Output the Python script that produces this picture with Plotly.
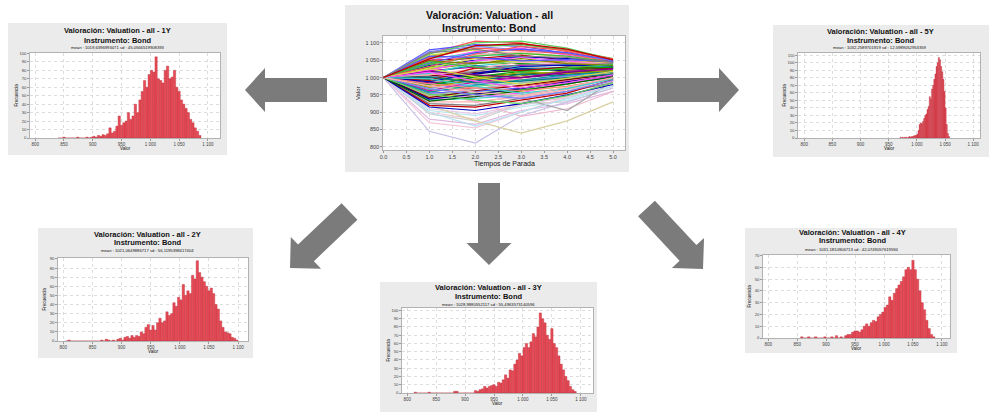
import math
import plotly.graph_objects as go

W, H = 989, 412

# ======================= DATA =======================
stop_times = [0.0, 1.0, 2.0, 3.0, 4.0, 5.0]
start_value = 1000
# values of each simulated path at t = 1..5 (all paths start at start_value)
valuation_paths = [
    [1070, 1105, 1100, 1075, 1050], [1080, 1095, 1090, 1070, 1045], [1060, 1090, 1095, 1080, 1055],
    [1065, 1080, 1070, 1060, 1040], [1050, 1075, 1085, 1065, 1045], [1055, 1070, 1060, 1055, 1040],
    [1045, 1065, 1075, 1060, 1050], [1040, 1060, 1050, 1045, 1035], [1050, 1055, 1065, 1050, 1042],
    [1035, 1050, 1060, 1055, 1048], [1030, 1045, 1040, 1035, 1030], [1025, 1040, 1050, 1045, 1038],
    [1020, 1030, 1035, 1040, 1035], [1015, 1035, 1025, 1030, 1028], [1010, 1020, 1030, 1025, 1032],
    [1005, 1015, 1020, 1030, 1025], [1000, 1010, 1025, 1020, 1030], [995, 1005, 1010, 1015, 1020],
    [990, 1000, 1005, 1020, 1025], [985, 995, 1000, 1010, 1018], [980, 990, 1010, 1005, 1022],
    [975, 985, 995, 1000, 1015], [970, 980, 990, 1005, 1010], [965, 975, 985, 995, 1012],
    [960, 970, 975, 990, 1005], [955, 960, 970, 985, 1000], [950, 955, 965, 980, 1008],
    [945, 950, 960, 975, 995], [940, 945, 955, 990, 1002], [935, 940, 950, 970, 998],
    [930, 930, 945, 965, 990], [925, 920, 940, 960, 985], [920, 915, 935, 955, 995],
    [915, 905, 925, 950, 980], [910, 895, 920, 945, 990], [905, 890, 915, 935, 975],
    [900, 880, 930, 940, 985], [895, 875, 925, 930, 970], [880, 865, 905, 925, 960],
    [870, 855, 900, 945, 975], [845, 811, 890, 930, 970], [920, 875, 840, 875, 930],
    [960, 930, 888, 910, 960], [990, 960, 940, 905, 990], [900, 860, 900, 940, 975],
    [985, 930, 945, 965, 1000], [1075, 1090, 1080, 1070, 1048], [1068, 1100, 1105, 1085, 1052],
    [1058, 1085, 1078, 1068, 1045], [1042, 1072, 1082, 1072, 1050], [1038, 1062, 1070, 1062, 1044],
    [1028, 1055, 1045, 1050, 1040], [1022, 1048, 1058, 1048, 1036], [1012, 1042, 1030, 1038, 1030],
    [1008, 1025, 1045, 1042, 1042], [998, 1018, 1038, 1035, 1040], [992, 1028, 1020, 1028, 1027],
    [988, 1012, 1032, 1036, 1034], [978, 1002, 1018, 1025, 1030], [972, 995, 1015, 1012, 1020],
    [962, 988, 1000, 1018, 1024], [958, 978, 992, 1008, 1016], [948, 968, 985, 1000, 1012],
    [942, 962, 978, 995, 1010], [938, 952, 968, 988, 1006], [932, 945, 962, 982, 1002],
    [1048, 1040, 1055, 1040, 1035], [1018, 1008, 1000, 1015, 1026], [1002, 985, 990, 1000, 1010],
    [982, 970, 962, 975, 998], [968, 950, 940, 960, 992], [952, 935, 925, 948, 985],
    [1032, 1068, 1090, 1078, 1054], [1062, 1058, 1048, 1052, 1046], [1046, 1030, 1015, 1028, 1038],
    [1026, 1002, 980, 998, 1018], [1016, 990, 970, 985, 1008], [996, 975, 955, 968, 996],
    [976, 958, 948, 972, 1000], [1072, 1082, 1062, 1058, 1044], [1054, 1092, 1098, 1082, 1051],
]
center_x_ticks = [0.0, 0.5, 1.0, 1.5, 2.0, 2.5, 3.0, 3.5, 4.0, 4.5, 5.0]
center_x_tick_text = ["0.0", "0.5", "1.0", "1.5", "2.0", "2.5", "3.0", "3.5", "4.0", "4.5", "5.0"]
value_ticks = [800, 850, 900, 950, 1000, 1050, 1100]
value_tick_text = ["800", "850", "900", "950", "1 000", "1 050", "1 100"]

center_title = ["Valoración: Valuation - all", "Instrumento: Bond"]
center_x_title = "Tiempos de Parada"
center_y_title = "Valor"
hist_x_title = "Valor"
hist_y_title = "Frecuencia"
hist_title_fmt = "Valoración: Valuation - all - {}"
instrument_line = "Instrumento: Bond"

# histograms: first bin left edge, bin width, counts per bin
hist_1y_start, hist_1y_width = 840, 4
hist_1y_counts = [0, 0, 1, 0, 0, 0, 0, 0, 1, 0, 0, 0, 1, 0, 1, 2, 1, 3, 2, 4, 3, 5, 12, 6, 8, 14,
                  26, 15, 18, 20, 30, 22, 26, 40, 30, 45, 55, 68, 60, 75, 80, 78, 96, 70, 68, 65,
                  80, 85, 70, 72, 80, 60, 55, 45, 40, 35, 30, 22, 18, 12, 8, 3]
hist_2y_start, hist_2y_width = 804, 4
hist_2y_counts = [0, 1, 0, 0, 0, 0, 0, 0, 0, 0, 0, 0, 0, 0, 0, 1, 0, 2, 1, 0, 1, 0, 2, 3, 1, 4,
                  5, 3, 6, 4, 6, 5, 10, 8, 15, 18, 12, 17, 12, 20, 25, 20, 22, 32, 28, 30, 42, 38,
                  48, 45, 62, 50, 55, 52, 72, 68, 88, 75, 70, 65, 60, 55, 58, 52, 40, 35, 22, 15,
                  10, 9, 8, 4, 3, 1]
hist_3y_start, hist_3y_width = 812, 4
hist_3y_counts = [1, 0, 0, 0, 0, 0, 1, 0, 0, 0, 0, 0, 0, 0, 0, 0, 0, 2, 2, 0, 0, 0, 0, 0, 0, 0,
                  3, 2, 4, 5, 8, 6, 8, 9, 10, 8, 13, 12, 16, 22, 18, 28, 27, 35, 40, 48, 45, 55,
                  60, 55, 62, 72, 68, 80, 97, 90, 85, 70, 65, 78, 60, 55, 45, 35, 28, 20, 15, 8,
                  4, 2]
hist_4y_start, hist_4y_width = 856, 4
hist_4y_counts = [1, 0, 0, 1, 0, 0, 1, 0, 0, 0, 1, 0, 0, 1, 0, 2, 0, 1, 0, 2, 3, 3, 5, 6, 6, 5,
                  7, 10, 12, 10, 13, 15, 14, 18, 20, 22, 26, 28, 35, 32, 38, 42, 45, 48, 52, 58,
                  60, 58, 66, 58, 50, 40, 30, 24, 15, 8, 3, 1]
hist_5y_start, hist_5y_width = 970, 2
hist_5y_counts = [1, 0, 1, 0, 1, 1, 0, 1, 2, 1, 2, 2, 3, 3, 4, 5, 10, 18, 20, 19, 22, 26, 30, 32,
                  38, 42, 55, 52, 65, 70, 78, 85, 95, 100, 107, 104, 95, 88, 78, 62, 40, 18, 6, 2]

freq_ticks_1y = [0, 10, 20, 30, 40, 50, 60, 70, 80, 90, 100]
freq_ticks_2y = [0, 10, 20, 30, 40, 50, 60, 70, 80, 90]
freq_ticks_3y = [0, 10, 20, 30, 40, 50, 60, 70, 80, 90, 100]
freq_ticks_4y = [0, 10, 20, 30, 40, 50, 60, 70]
freq_ticks_5y = [0, 10, 20, 30, 40, 50, 60, 70, 80, 90, 100, 110]

subtitle_1y = "mean : 1019,6396993471 sd : 45,0566519908393"
subtitle_2y = "mean : 1021,0649886717 sd : 56,1195398417404"
subtitle_3y = "mean : 1028,9880552117 sd : 55,4963573140596"
subtitle_4y = "mean : 1031,1810906713 sd : 42,0749057619594"
subtitle_5y = "mean : 1032,2589701919 sd : 12,5989052953359"

histograms = [
    ("1Y", hist_1y_start, hist_1y_width, hist_1y_counts, freq_ticks_1y, subtitle_1y),
    ("2Y", hist_2y_start, hist_2y_width, hist_2y_counts, freq_ticks_2y, subtitle_2y),
    ("3Y", hist_3y_start, hist_3y_width, hist_3y_counts, freq_ticks_3y, subtitle_3y),
    ("4Y", hist_4y_start, hist_4y_width, hist_4y_counts, freq_ticks_4y, subtitle_4y),
    ("5Y", hist_5y_start, hist_5y_width, hist_5y_counts, freq_ticks_5y, subtitle_5y),
]

# ======================= LAYOUT (pixels) =======================
center_panel = dict(box=(345, 5, 629, 172), plot=(383, 36, 625, 150), title_x=489, title_y=(15, 28),
                    xr=(-0.01, 5.26), yr=(791, 1120))
hist_panels = {
    "1Y": dict(box=(8, 23, 227, 155), plot=(30, 53, 220, 138), title_x=117.5, title_y=(31, 40.5, 47.5),
               xr=(791, 1121), yr=(0, 100.5)),
    "2Y": dict(box=(38, 228, 253, 358), plot=(58, 258, 248, 341), title_x=147, title_y=(234.5, 242.5, 250.5),
               xr=(791, 1117), yr=(0, 91)),
    "3Y": dict(box=(380, 282, 597, 412), plot=(402, 308, 593, 393), title_x=488, title_y=(287.5, 296, 304),
               xr=(791, 1121), yr=(0, 103)),
    "4Y": dict(box=(745, 228, 957, 353), plot=(763, 255, 950, 338), title_x=852, title_y=(232.5, 241, 249.5),
               xr=(791, 1114), yr=(0, 70.5)),
    "5Y": dict(box=(773, 25, 989, 157), plot=(798, 53, 980, 138), title_x=880, title_y=(32, 41, 48),
               xr=(789, 1112), yr=(0, 113)),
}
arrows = [  # tail centre, tip, shaft width, head width, head length (pixels)
    ((327, 90), (245, 90), 24, 44, 20),
    ((657, 90), (739, 90), 24, 44, 20),
    ((489, 183), (489, 265), 22, 45, 22),
    ((349.5, 211.5), (290, 268), 23, 44, 22),
    ((646.5, 208.5), (703, 269), 23, 44, 22),
]

PANEL_GRAY = "#ebebeb"
ARROW_GRAY = "#7b7b7b"
BAR_FILL = "rgb(232,74,86)"
BAR_LINE = "rgb(185,45,58)"
GRID = "#d4d4d4"
BORDER = "#9a9a9a"
TICK_COLOR = "#444444"
FONT = "Liberation Sans"
palette = ["#FF5555", "#5555FF", "#3FBF3F", "#D8D840", "#FF55FF", "#40CFCF", "#FFAFAF", "#808080",
           "#C00000", "#0000C0", "#00A000", "#A0A000", "#C000C0", "#00A0A0", "#B0B0B0", "#800000",
           "#000080", "#006000", "#808000", "#800080", "#008080", "#FF8080", "#8080FF", "#60D060"]
# pale colours used by the low outlying paths (style only)
pale_palette = ["#E8C8E8", "#B8E8F0", "#F0C8D8", "#D0D0D0", "#E0B8E0", "#F4C8DC", "#C8C0E8",
                "#D8D0A0", "#F0B8D0", "#A8A8A8", "#B8E0F0", "#D8C8F0"]
PALE_FROM = 34


def fx(x):
    return x / W


def fy(y):
    return 1 - y / H


fig = go.Figure()
shapes = []
annotations = []


def add_panel_bg(box, plot):
    shapes.append(dict(type="rect", xref="paper", yref="paper", x0=fx(box[0]), x1=fx(box[2]),
                       y0=fy(box[3]), y1=fy(box[1]), fillcolor=PANEL_GRAY, line=dict(width=0), layer="below"))
    shapes.append(dict(type="rect", xref="paper", yref="paper", x0=fx(plot[0]), x1=fx(plot[2]),
                       y0=fy(plot[3]), y1=fy(plot[1]), fillcolor="white", line=dict(width=0), layer="below"))


def add_text(text, x, y, size, bold=False, angle=0, color="#111111"):
    annotations.append(dict(text=("<b>%s</b>" % text) if bold else text, x=fx(x), y=fy(y), xref="paper",
                            yref="paper", showarrow=False, xanchor="center", yanchor="middle",
                            textangle=angle, font=dict(family=FONT, size=size, color=color)))


def axis_common(domain, rng, tickvals, ticktext, fsize):
    return dict(domain=domain, range=list(rng), tickvals=tickvals, ticktext=ticktext, showgrid=True,
                gridcolor=GRID, griddash="dot", gridwidth=0.8, zeroline=False, showline=True, mirror=True,
                linecolor=BORDER, linewidth=0.7, ticks="outside", ticklen=2, tickcolor=BORDER,
                tickfont=dict(family=FONT, size=fsize, color=TICK_COLOR), automargin=False, fixedrange=True)


# ---- centre chart ----
cp = center_panel
add_panel_bg(cp["box"], cp["plot"])
order = list(range(PALE_FROM, 46)) + [i for i in range(len(valuation_paths)) if not (PALE_FROM <= i < 46)]
for i in order:
    p = valuation_paths[i]
    if PALE_FROM <= i < 46:
        col = pale_palette[(i - PALE_FROM) % len(pale_palette)]
    else:
        col = palette[i % len(palette)]
    fig.add_trace(go.Scatter(x=stop_times, y=[start_value] + p, mode="lines", xaxis="x", yaxis="y",
                             line=dict(color=col, width=1.2),
                             showlegend=False, hoverinfo="skip"))
l, t, r, b = cp["plot"]
fig.update_layout(
    xaxis=axis_common([fx(l), fx(r)], cp["xr"], center_x_ticks, center_x_tick_text, 5.5) | dict(anchor="y"),
    yaxis=axis_common([fy(b), fy(t)], cp["yr"], value_ticks, value_tick_text, 5.5) | dict(anchor="x"),
)
add_text(center_title[0], cp["title_x"], cp["title_y"][0], 10.5, bold=True)
add_text(center_title[1], cp["title_x"], cp["title_y"][1], 10.5, bold=True)
add_text(center_x_title, (l + r) / 2, b + 14, 7)
add_text(center_y_title, l - 25, (t + b) / 2, 6, angle=-90)

# ---- histograms ----
for k, (label, start, width, counts, fticks, subtitle) in enumerate(histograms):
    hp = hist_panels[label]
    n = k + 2
    xa, ya = "x%d" % n, "y%d" % n
    add_panel_bg(hp["box"], hp["plot"])
    centers = [start + width * (i + 0.5) for i in range(len(counts))]
    fig.add_trace(go.Bar(x=centers, y=counts, width=width, xaxis=xa, yaxis=ya,
                         marker=dict(color=BAR_FILL, line=dict(color=BAR_LINE, width=0.4)),
                         showlegend=False, hoverinfo="skip"))
    l, t, r, b = hp["plot"]
    fig.update_layout({
        "xaxis%d" % n: axis_common([fx(l), fx(r)], hp["xr"], value_ticks, value_tick_text, 4.5) | dict(anchor=ya),
        "yaxis%d" % n: axis_common([fy(b), fy(t)], hp["yr"], fticks, [str(v) for v in fticks], 4.2) | dict(anchor=xa),
    })
    add_text(hist_title_fmt.format(label), hp["title_x"], hp["title_y"][0], 7.5, bold=True)
    add_text(instrument_line, hp["title_x"], hp["title_y"][1], 7.5, bold=True)
    add_text(subtitle, hp["title_x"], hp["title_y"][2], 4.2)
    add_text(hist_x_title, (l + r) / 2, b + 10, 4.5)
    add_text(hist_y_title, l - 14, (t + b) / 2, 4.5, angle=-90)


# ---- arrows ----
def arrow_path(tail, tip, sw, hw, hl):
    tx, ty = tail
    px, py = tip
    dx, dy = px - tx, py - ty
    L = math.hypot(dx, dy)
    ux, uy = dx / L, dy / L
    nx, ny = -uy, ux
    bx, by = px - ux * hl, py - uy * hl
    pts = [(tx + nx * sw / 2, ty + ny * sw / 2), (bx + nx * sw / 2, by + ny * sw / 2),
           (bx + nx * hw / 2, by + ny * hw / 2), (px, py), (bx - nx * hw / 2, by - ny * hw / 2),
           (bx - nx * sw / 2, by - ny * sw / 2), (tx - nx * sw / 2, ty - ny * sw / 2)]
    return "M " + " L ".join("%.5f,%.5f" % (fx(x), fy(y)) for x, y in pts) + " Z"


for tail, tip, sw, hw, hl in arrows:
    shapes.append(dict(type="path", xref="paper", yref="paper", path=arrow_path(tail, tip, sw, hw, hl),
                       fillcolor=ARROW_GRAY, line=dict(width=0), layer="above"))

fig.update_layout(
    width=W, height=H, autosize=False, margin=dict(l=0, r=0, t=0, b=0, pad=0),
    paper_bgcolor="white", plot_bgcolor="rgba(0,0,0,0)", shapes=shapes, annotations=annotations,
    showlegend=False, barmode="overlay", font=dict(family=FONT),
)
fig.write_html("out.html", config=dict(displayModeBar=False, staticPlot=True))
